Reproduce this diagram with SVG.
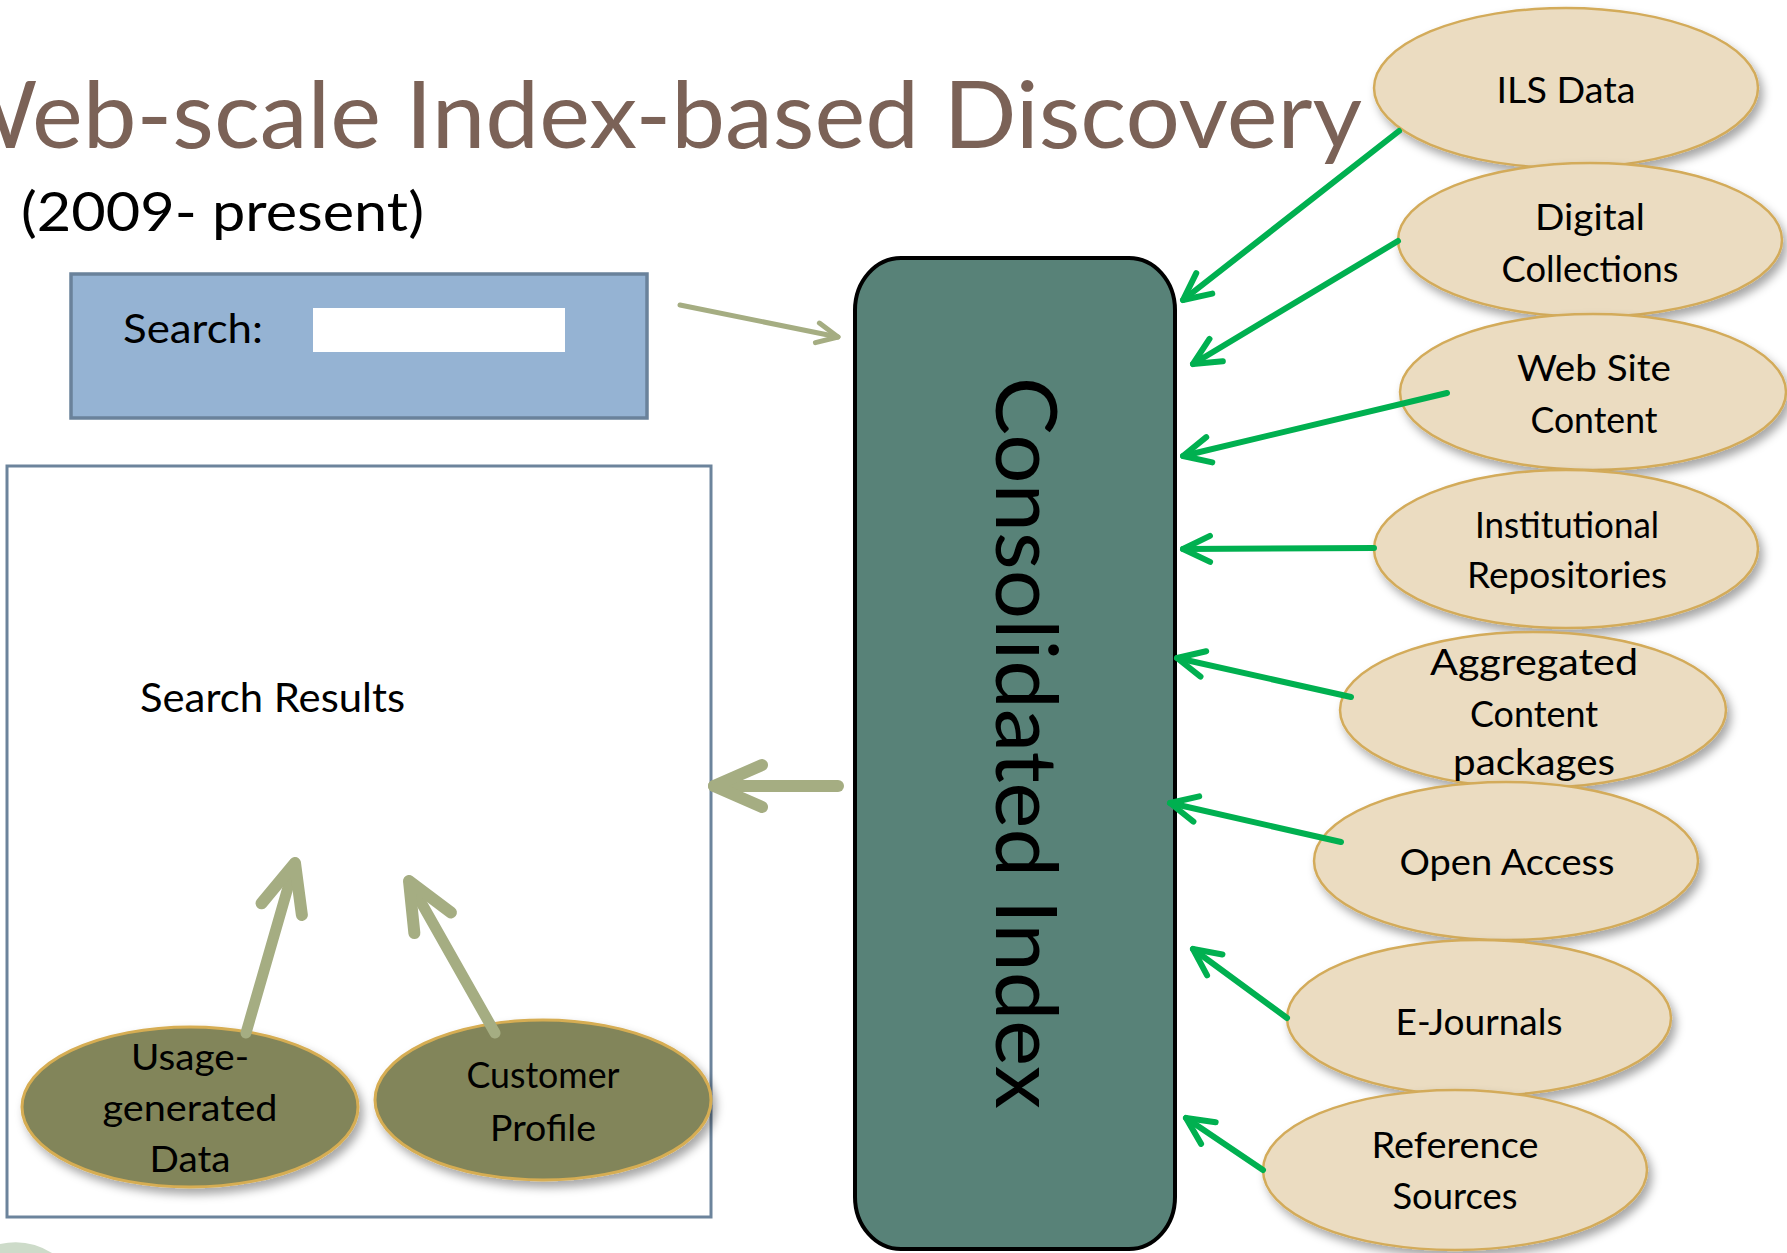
<svg xmlns="http://www.w3.org/2000/svg" width="1787" height="1253" viewBox="0 0 1787 1253">
<style>
.lbl{font-family:Lato,"Noto Sans","Liberation Sans",sans-serif;font-size:36px;fill:#000;text-anchor:middle}
.src{fill:#ebdcc1;stroke:#d3ab5a;stroke-width:2.5}
.olv{fill:#82855a;stroke:#d6ad52;stroke-width:3}
.g{stroke:#00b050;stroke-width:6;fill:none;stroke-linecap:round}
.o{stroke:#a5ad82;fill:none;stroke-linecap:round}
</style>
<defs>
<filter id="sh" x="-20%" y="-20%" width="140%" height="150%">
<feDropShadow dx="4" dy="6" stdDeviation="5" flood-color="#000" flood-opacity="0.35"/>
</filter>
<marker id="ag" markerUnits="userSpaceOnUse" orient="auto" refX="0" refY="0" viewBox="-40 -25 50 50" markerWidth="50" markerHeight="50" overflow="visible">
<path d="M-27,-13 L0,0 L-27,13" fill="none" stroke="#00b050" stroke-width="6" stroke-linecap="round" stroke-linejoin="round"/>
</marker>
<marker id="as" markerUnits="userSpaceOnUse" orient="auto" refX="0" refY="0" viewBox="-30 -20 40 40" markerWidth="40" markerHeight="40" overflow="visible">
<path d="M-21,-10 L0,0 L-21,10" fill="none" stroke="#a5ad82" stroke-width="5" stroke-linecap="round" stroke-linejoin="round"/>
</marker>
<marker id="ab" markerUnits="userSpaceOnUse" orient="auto" refX="0" refY="0" viewBox="-70 -40 80 80" markerWidth="80" markerHeight="80" overflow="visible">
<path d="M-48,-21 L0,0 L-48,21" fill="none" stroke="#a5ad82" stroke-width="12" stroke-linecap="round" stroke-linejoin="round"/>
</marker>
</defs>
<rect width="1787" height="1253" fill="#fff"/>
<path d="M0,1253 L0,1244 Q28,1238 52,1253 Z" fill="#cddbc9"/>

<g id="title">
<text x="-62" y="148" font-family="Lato,'Noto Sans',sans-serif" font-size="94" fill="#7b6257" textLength="1424" lengthAdjust="spacingAndGlyphs">Web-scale Index-based Discovery</text>
<text x="21" y="231" font-family="Lato,'Noto Sans',sans-serif" font-size="55" fill="#000" textLength="403" lengthAdjust="spacingAndGlyphs">(2009- present)</text>
</g>

<g id="search">
<rect x="71" y="274" width="576" height="144" fill="#95b3d3" stroke="#6a829b" stroke-width="3.5"/>
<text x="123" y="343" font-family="Lato,'Noto Sans',sans-serif" font-size="40" fill="#000" textLength="140" lengthAdjust="spacingAndGlyphs">Search:</text>
<rect x="313" y="308" width="252" height="44" fill="#fff"/>
</g>

<g id="results">
<rect x="7" y="466" width="704" height="751" fill="#fff" stroke="#6c849c" stroke-width="3"/>
<text x="140" y="712" font-family="Lato,'Noto Sans',sans-serif" font-size="41" fill="#000" textLength="265" lengthAdjust="spacingAndGlyphs">Search Results</text>
</g>

<g id="usage">
<ellipse cx="190" cy="1107" rx="168" ry="80" class="olv" filter="url(#sh)"/>
<text class="lbl" x="190" y="1070" font-size="37" textLength="118" lengthAdjust="spacingAndGlyphs">Usage-</text>
<text class="lbl" x="190" y="1121" font-size="37" textLength="175" lengthAdjust="spacingAndGlyphs">generated</text>
<text class="lbl" x="190" y="1172" font-size="37" textLength="81" lengthAdjust="spacingAndGlyphs">Data</text>
</g>

<g id="customer">
<ellipse cx="543" cy="1100" rx="168" ry="80" class="olv" filter="url(#sh)"/>
<text class="lbl" x="543" y="1088" font-size="37" textLength="153" lengthAdjust="spacingAndGlyphs">Customer</text>
<text class="lbl" x="543" y="1141" font-size="37" textLength="106" lengthAdjust="spacingAndGlyphs">Profile</text>
</g>

<g id="index">
<rect x="855" y="258" width="320" height="991" rx="46" ry="52" fill="#588278" stroke="#000" stroke-width="4"/>
<text transform="translate(996,377) rotate(90)" x="0" y="0" font-family="Lato,'Noto Sans',sans-serif" font-size="86" fill="#000" textLength="732" lengthAdjust="spacingAndGlyphs">Consolidated Index</text>
</g>

<g id="ils">
<ellipse cx="1566" cy="88" rx="192" ry="80" class="src" filter="url(#sh)"/>
<text class="lbl" x="1566" y="103" textLength="139" lengthAdjust="spacingAndGlyphs">ILS Data</text>
</g>
<g id="digital">
<ellipse cx="1590" cy="240" rx="192" ry="77" class="src" filter="url(#sh)"/>
<text class="lbl" x="1590" y="230" textLength="110" lengthAdjust="spacingAndGlyphs">Digital</text>
<text class="lbl" x="1590" y="282" textLength="177" lengthAdjust="spacingAndGlyphs">Collections</text>
</g>
<g id="website">
<ellipse cx="1593" cy="392" rx="193" ry="78" class="src" filter="url(#sh)"/>
<text class="lbl" x="1594" y="381" textLength="154" lengthAdjust="spacingAndGlyphs">Web Site</text>
<text class="lbl" x="1594" y="433" textLength="127" lengthAdjust="spacingAndGlyphs">Content</text>
</g>
<g id="institutional">
<ellipse cx="1566" cy="549" rx="192" ry="79" class="src" filter="url(#sh)"/>
<text class="lbl" x="1567" y="538" textLength="184" lengthAdjust="spacingAndGlyphs">Institutional</text>
<text class="lbl" x="1567" y="588" textLength="200" lengthAdjust="spacingAndGlyphs">Repositories</text>
</g>
<g id="aggregated">
<ellipse cx="1533" cy="710" rx="193" ry="78" class="src" filter="url(#sh)"/>
<text class="lbl" x="1534" y="675" textLength="208" lengthAdjust="spacingAndGlyphs">Aggregated</text>
<text class="lbl" x="1534" y="727" textLength="128" lengthAdjust="spacingAndGlyphs">Content</text>
<text class="lbl" x="1534" y="775" textLength="162" lengthAdjust="spacingAndGlyphs">packages</text>
</g>
<g id="openaccess">
<ellipse cx="1506" cy="861" rx="192" ry="79" class="src" filter="url(#sh)"/>
<text class="lbl" x="1507" y="875" textLength="215" lengthAdjust="spacingAndGlyphs">Open Access</text>
</g>
<g id="ejournals">
<ellipse cx="1479" cy="1018" rx="192" ry="78" class="src" filter="url(#sh)"/>
<text class="lbl" x="1479" y="1035" textLength="167" lengthAdjust="spacingAndGlyphs">E-Journals</text>
</g>
<g id="reference">
<ellipse cx="1455" cy="1170" rx="192" ry="80" class="src" filter="url(#sh)"/>
<text class="lbl" x="1455" y="1158" textLength="167" lengthAdjust="spacingAndGlyphs">Reference</text>
<text class="lbl" x="1455" y="1209" textLength="125" lengthAdjust="spacingAndGlyphs">Sources</text>
</g>

<g id="connectors">
<line class="g" x1="1399" y1="131" x2="1183" y2="300" marker-end="url(#ag)"/>
<line class="g" x1="1398" y1="241" x2="1193" y2="364" marker-end="url(#ag)"/>
<line class="g" x1="1447" y1="393" x2="1183" y2="456" marker-end="url(#ag)"/>
<line class="g" x1="1374" y1="548" x2="1183" y2="549" marker-end="url(#ag)"/>
<line class="g" x1="1351" y1="697" x2="1177" y2="658" marker-end="url(#ag)"/>
<line class="g" x1="1341" y1="842" x2="1170" y2="803" marker-end="url(#ag)"/>
<line class="g" x1="1287" y1="1018" x2="1193" y2="949" marker-end="url(#ag)"/>
<line class="g" x1="1263" y1="1170" x2="1186" y2="1118" marker-end="url(#ag)"/>
<line class="o" stroke-width="5" x1="680" y1="305" x2="838" y2="337" marker-end="url(#as)"/>
<line class="o" stroke-width="12" x1="838" y1="786" x2="714" y2="786" marker-end="url(#ab)"/>
<line class="o" stroke-width="11" x1="246" y1="1033" x2="295" y2="863" marker-end="url(#ab)"/>
<line class="o" stroke-width="11" x1="495" y1="1033" x2="409" y2="881" marker-end="url(#ab)"/>
</g>
</svg>
